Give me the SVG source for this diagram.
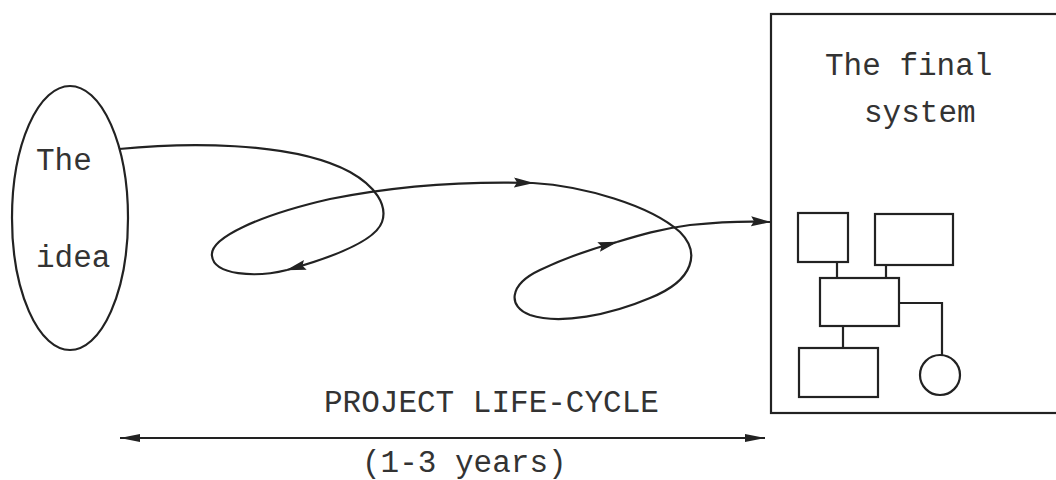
<svg xmlns="http://www.w3.org/2000/svg" width="1056" height="480" viewBox="0 0 1056 480">
<style>
.ln{fill:none;stroke:#222;stroke-width:2.2}
.t{font-family:"Liberation Mono","Courier New",monospace;font-size:31px;fill:#333}
</style>
<defs>
<marker id="ah" markerUnits="userSpaceOnUse" markerWidth="22" markerHeight="12" refX="19" refY="5" orient="auto">
<path d="M0,0 L20,5 L0,10 L3,5 Z" fill="#222"/>
</marker>
<marker id="ah2" markerUnits="userSpaceOnUse" markerWidth="22" markerHeight="10" refX="20" refY="4" orient="auto-start-reverse">
<path d="M0,0 L20,4 L0,8 Z" fill="#222"/>
</marker>
</defs>
<rect width="1056" height="480" fill="#fff"/>
<g id="idea">
<ellipse class="ln" cx="70" cy="218" rx="58" ry="132"/>
<text class="t" x="36" y="170">The</text>
<text class="t" x="36" y="267">idea</text>
</g>
<g id="final-system">
<rect class="ln" x="771" y="14" width="300" height="399"/>
<text class="t" x="825" y="75">The final</text>
<text class="t" x="864" y="122">system</text>
<rect class="ln" x="798" y="213" width="50" height="49"/>
<rect class="ln" x="875" y="214" width="78" height="51"/>
<rect class="ln" x="820" y="278" width="79" height="48"/>
<rect class="ln" x="799" y="348" width="79" height="49"/>
<circle class="ln" cx="940" cy="375" r="20"/>
<path class="ln" d="M837,262 V278 M886,265 V278 M843,326 V348 M899,303 H942 V355"/>
</g>
<g id="connectors">
<path class="ln" marker-end="url(#ah)" d="M119,149 C180,143 290,140 350,172 C375,186 388,205 382,222 C375,242 330,258 287,270"/>
<path class="ln" marker-end="url(#ah)" d="M287,270 C255,278 214,275 212,256 C209,238 260,215 330,199 C390,187 460,181 533,183"/>
<path class="ln" marker-end="url(#ah)" d="M533,183 C583,186 650,205 680,232 C700,252 695,280 650,298 C610,315 560,325 530,315 C508,307 508,285 540,270 C565,258 595,248 617,242"/>
<path class="ln" marker-end="url(#ah)" d="M617,242 C640,235 660,229 690,225 C720,222 745,221 770,222"/>
<path class="ln" marker-start="url(#ah2)" marker-end="url(#ah2)" d="M120,438 H765"/>
</g>
<g id="labels">
<text class="t" x="324" y="412">PROJECT LIFE-CYCLE</text>
<text class="t" x="362" y="472">(1-3 years)</text>
</g>
</svg>
